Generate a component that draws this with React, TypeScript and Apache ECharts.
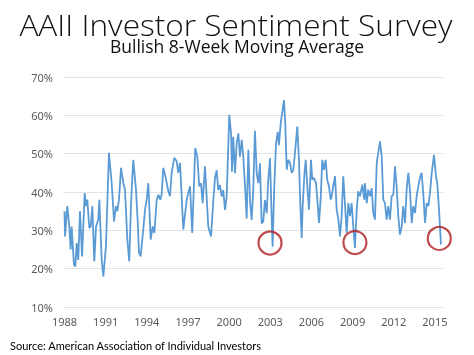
import React, { useEffect, useRef } from "react";
import * as echarts from "echarts";

const weekYears: number[] = [
  1988.0, 1988.04, 1988.2, 1988.35, 1988.45, 1988.52, 1988.69, 1988.79, 1988.89, 1989.0,
  1989.13, 1989.28, 1989.47, 1989.57, 1989.66, 1989.81, 1989.91, 1990.03, 1990.17, 1990.3,
  1990.46, 1990.54, 1990.71, 1990.83, 1991.02, 1991.24, 1991.44, 1991.61, 1991.75, 1991.85,
  1991.97, 1992.12, 1992.29, 1992.41, 1992.58, 1992.72, 1992.85, 1993.01, 1993.21, 1993.33,
  1993.43, 1993.55, 1993.74, 1993.87, 1993.99, 1994.11, 1994.28, 1994.43, 1994.55, 1994.72,
  1994.84, 1994.98, 1995.08, 1995.2, 1995.38, 1995.57, 1995.69, 1995.81, 1996.0, 1996.18,
  1996.29, 1996.42, 1996.66, 1996.91, 1997.02, 1997.15, 1997.31, 1997.53, 1997.68, 1997.82,
  1997.95, 1998.07, 1998.24, 1998.48, 1998.68, 1998.85, 1998.97, 1999.09, 1999.21, 1999.33,
  1999.46, 1999.57, 1999.7, 1999.82, 2000.01, 2000.14, 2000.21, 2000.3, 2000.43, 2000.55,
  2000.67, 2000.79, 2000.92, 2001.03, 2001.16, 2001.28, 2001.4, 2001.52, 2001.64, 2001.76,
  2001.88, 2002.01, 2002.13, 2002.25, 2002.37, 2002.49, 2002.61, 2002.74, 2002.85, 2002.98,
  2003.1, 2003.17, 2003.29, 2003.42, 2003.54, 2003.63, 2003.76, 2003.9, 2004.0, 2004.09,
  2004.2, 2004.31, 2004.44, 2004.56, 2004.68, 2004.8, 2004.97, 2005.09, 2005.16, 2005.29,
  2005.36, 2005.48, 2005.58, 2005.7, 2005.82, 2005.97, 2006.06, 2006.18, 2006.33, 2006.43,
  2006.55, 2006.67, 2006.79, 2006.91, 2007.04, 2007.15, 2007.28, 2007.4, 2007.48, 2007.59,
  2007.72, 2007.84, 2007.96, 2008.08, 2008.2, 2008.32, 2008.44, 2008.57, 2008.69, 2008.81,
  2008.93, 2009.05, 2009.17, 2009.3, 2009.41, 2009.54, 2009.71, 2009.85, 2009.9, 2010.03,
  2010.14, 2010.27, 2010.39, 2010.51, 2010.63, 2010.76, 2010.87, 2011.0, 2011.12, 2011.24,
  2011.36, 2011.48, 2011.6, 2011.72, 2011.85, 2011.97, 2012.09, 2012.21, 2012.33, 2012.45,
  2012.58, 2012.69, 2012.82, 2012.94, 2013.06, 2013.18, 2013.31, 2013.42, 2013.55, 2013.67,
  2013.79, 2013.91, 2014.03, 2014.15, 2014.28, 2014.4, 2014.52, 2014.64, 2014.77, 2014.93,
  2015.08, 2015.17, 2015.3, 2015.44,
];

const bullishPct: number[] = [
  35.0, 28.4, 36.3, 31.0, 25.0, 31.0, 21.0, 20.6, 26.7, 22.3,
  35.0, 23.2, 39.7, 36.3, 38.0, 30.6, 31.0, 36.3, 21.9, 31.0,
  32.8, 38.0, 22.3, 18.0, 25.8, 50.2, 42.3, 32.3, 36.3, 35.0,
  38.0, 46.3, 42.3, 40.6, 27.6, 21.9, 37.1, 48.4, 40.6, 32.8,
  24.1, 23.2, 30.2, 35.4, 38.0, 42.3, 27.6, 31.0, 29.3, 38.0,
  39.3, 38.0, 39.3, 46.3, 43.7, 40.2, 38.9, 45.0, 48.9, 48.0,
  45.0, 47.6, 30.2, 38.0, 39.7, 41.5, 29.3, 51.5, 49.3, 41.5,
  42.3, 37.1, 46.7, 31.0, 28.4, 37.9, 43.6, 45.7, 40.5, 41.8,
  38.8, 40.5, 35.3, 38.8, 60.1, 55.3, 45.3, 54.4, 44.9, 52.7,
  55.3, 49.2, 53.6, 49.2, 41.4, 33.1, 51.0, 37.9, 32.7, 40.5,
  56.0, 44.9, 42.3, 47.5, 31.8, 32.3, 37.9, 34.4, 43.1, 48.8,
  33.6, 25.7, 41.4, 52.7, 55.7, 52.2, 57.9, 61.4, 64.0, 57.9,
  45.8, 48.4, 47.6, 45.0, 45.8, 50.2, 57.1, 48.4, 39.7, 28.0,
  36.3, 44.1, 48.4, 41.5, 35.4, 48.4, 43.2, 43.7, 42.3, 38.0,
  31.9, 38.0, 48.4, 45.8, 48.4, 43.2, 41.5, 38.0, 38.9, 41.5,
  44.1, 35.4, 32.8, 28.4, 33.7, 44.1, 37.1, 29.3, 37.1, 33.7,
  37.1, 31.0, 25.4, 35.4, 40.2, 38.9, 41.9, 38.0, 42.3, 37.1,
  40.6, 38.9, 41.0, 34.5, 32.8, 47.6, 50.2, 53.2, 49.3, 38.0,
  37.1, 32.8, 36.3, 32.8, 38.9, 39.3, 46.7, 41.5, 33.7, 28.9,
  31.0, 36.3, 31.9, 40.6, 45.0, 40.6, 31.9, 36.3, 34.5, 38.9,
  41.5, 43.7, 45.0, 39.7, 31.9, 37.1, 36.3, 39.7, 45.0, 49.7,
  44.1, 42.3, 35.4, 26.3,
];

const tickYears: number[] = [1988, 1991, 1994, 1997, 2000, 2003, 2006, 2009, 2012, 2015];
const circleYears: number[] = [2002.98, 2009.17, 2015.32];
const circleValues: number[] = [26.7, 26.8, 27.9];

const titleText = "AAII Investor Sentiment Survey";
const subtitleText = "Bullish 8-Week Moving Average";
const sourceText = "Source: American Association of Individual Investors";

export default function App() {
  const ref = useRef<HTMLDivElement>(null);
  useEffect(() => {
    if (!ref.current) return;
    const chart = echarts.init(ref.current, null, { renderer: "svg" });
    chart.setOption({
      animation: false,
      grid: { left: 63, right: 31, top: 77, bottom: 48, containLabel: false },
      xAxis: {
        type: "value",
        min: 1987.89,
        max: 2015.59,
        splitLine: { show: false },
        axisLine: { show: false },
        axisTick: { show: false },
        axisLabel: {
          customValues: tickYears,
          formatter: (v: number) => String(Math.round(v)),
          color: "#595959",
          fontSize: 11,
          fontFamily: "Noto Sans",
          margin: 9,
        },
      },
      yAxis: {
        type: "value",
        min: 10,
        max: 70,
        interval: 10,
        axisLine: { show: false },
        axisTick: { show: false },
        splitLine: { lineStyle: { color: "#e3e3e3", width: 1 } },
        axisLabel: {
          formatter: "{value}%",
          color: "#595959",
          fontSize: 11,
          fontFamily: "Noto Sans",
          margin: 10,
        },
      },
      series: [
        {
          type: "line",
          data: weekYears.map((y, i) => [y, bullishPct[i]]),
          showSymbol: false,
          lineStyle: { color: "#5b9bd5", width: 1.8 },
          z: 2,
        },
        {
          type: "scatter",
          data: circleYears.map((y, i) => [y, circleValues[i]]),
          symbol: "circle",
          symbolSize: 23,
          itemStyle: { color: "rgba(0,0,0,0)", borderColor: "#b01e23", borderWidth: 2.2 },
          z: 3,
        },
      ],
      graphic: [
        {
          type: "text",
          x: 236,
          y: 25,
          scaleX: 1.09,
          style: {
            text: titleText,
            fill: "#111",
            font: "300 29px 'Open Sans'",
            lineHeight: 28,
            textAlign: "center",
            textVerticalAlign: "middle",
          },
        },
        {
          type: "text",
          x: 237,
          y: 46,
          style: {
            text: subtitleText,
            fill: "#111",
            font: "17.5px 'Open Sans'",
            lineHeight: 17,
            textAlign: "center",
            textVerticalAlign: "middle",
          },
        },
        {
          type: "text",
          x: 10,
          y: 345,
          style: {
            text: sourceText,
            fill: "#000",
            font: "11px Lato",
            textAlign: "left",
            textVerticalAlign: "middle",
          },
        },
      ],
    });
    return () => chart.dispose();
  }, []);
  return (
    <div
      ref={ref}
      style={{ position: "fixed", left: 0, top: 0, width: 474, height: 355 }}
    />
  );
}
